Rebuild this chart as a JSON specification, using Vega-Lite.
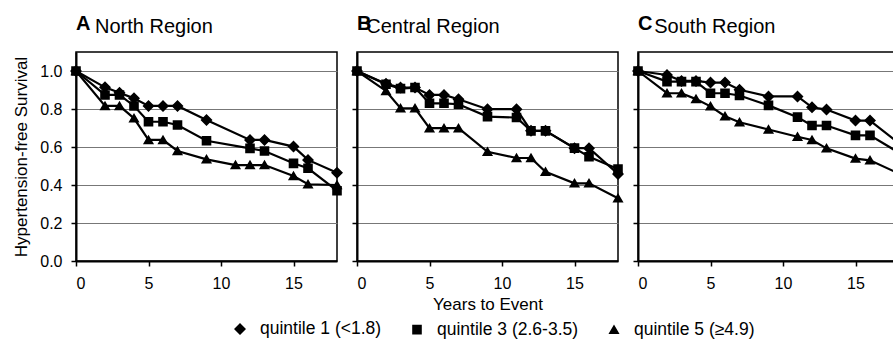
{
  "$schema": "https://vega.github.io/schema/vega-lite/v6.json",
  "padding": {"left": 12, "top": 13, "right": 0, "bottom": 0},
  "background": "white",
  "config": {
    "font": "Liberation Sans",
    "view": {"stroke": "black", "strokeWidth": 1.5},
    "axis": {
      "labelFont": "Liberation Sans", "labelFontSize": 16, "labelColor": "black",
      "titleFont": "Liberation Sans", "titleFontSize": 17, "titleFontWeight": "normal", "titleColor": "black",
      "domainColor": "black", "domainWidth": 2, "tickColor": "black", "tickWidth": 1.5, "tickSize": 5
    },
    "axisY": {"gridColor": "#777777", "gridWidth": 1, "gridOpacity": 1, "labelPadding": 9, "titlePadding": 9},
    "axisX": {"grid": false, "labelPadding": 9, "titlePadding": 5},
    "title": {"font": "Liberation Sans", "color": "black", "anchor": "start"}
  },
  "datasets": {
    "surv": [
      {"region": "North Region", "q": "quintile 1 (<1.8)", "t": 0, "s": 1.0},
      {"region": "North Region", "q": "quintile 1 (<1.8)", "t": 2, "s": 0.914},
      {"region": "North Region", "q": "quintile 1 (<1.8)", "t": 3, "s": 0.886},
      {"region": "North Region", "q": "quintile 1 (<1.8)", "t": 4, "s": 0.856},
      {"region": "North Region", "q": "quintile 1 (<1.8)", "t": 5, "s": 0.816},
      {"region": "North Region", "q": "quintile 1 (<1.8)", "t": 6, "s": 0.816},
      {"region": "North Region", "q": "quintile 1 (<1.8)", "t": 7, "s": 0.816},
      {"region": "North Region", "q": "quintile 1 (<1.8)", "t": 9, "s": 0.742},
      {"region": "North Region", "q": "quintile 1 (<1.8)", "t": 12, "s": 0.637},
      {"region": "North Region", "q": "quintile 1 (<1.8)", "t": 13, "s": 0.637},
      {"region": "North Region", "q": "quintile 1 (<1.8)", "t": 15, "s": 0.602},
      {"region": "North Region", "q": "quintile 1 (<1.8)", "t": 16, "s": 0.532},
      {"region": "North Region", "q": "quintile 1 (<1.8)", "t": 18, "s": 0.465},
      {"region": "North Region", "q": "quintile 3 (2.6-3.5)", "t": 0, "s": 1.0},
      {"region": "North Region", "q": "quintile 3 (2.6-3.5)", "t": 2, "s": 0.874},
      {"region": "North Region", "q": "quintile 3 (2.6-3.5)", "t": 3, "s": 0.874},
      {"region": "North Region", "q": "quintile 3 (2.6-3.5)", "t": 4, "s": 0.816},
      {"region": "North Region", "q": "quintile 3 (2.6-3.5)", "t": 5, "s": 0.733},
      {"region": "North Region", "q": "quintile 3 (2.6-3.5)", "t": 6, "s": 0.733},
      {"region": "North Region", "q": "quintile 3 (2.6-3.5)", "t": 7, "s": 0.716},
      {"region": "North Region", "q": "quintile 3 (2.6-3.5)", "t": 9, "s": 0.633},
      {"region": "North Region", "q": "quintile 3 (2.6-3.5)", "t": 12, "s": 0.593},
      {"region": "North Region", "q": "quintile 3 (2.6-3.5)", "t": 13, "s": 0.579},
      {"region": "North Region", "q": "quintile 3 (2.6-3.5)", "t": 15, "s": 0.514},
      {"region": "North Region", "q": "quintile 3 (2.6-3.5)", "t": 16, "s": 0.488},
      {"region": "North Region", "q": "quintile 3 (2.6-3.5)", "t": 18, "s": 0.37},
      {"region": "North Region", "q": "quintile 5 (≥4.9)", "t": 0, "s": 1.0},
      {"region": "North Region", "q": "quintile 5 (≥4.9)", "t": 2, "s": 0.816},
      {"region": "North Region", "q": "quintile 5 (≥4.9)", "t": 3, "s": 0.816},
      {"region": "North Region", "q": "quintile 5 (≥4.9)", "t": 4, "s": 0.751},
      {"region": "North Region", "q": "quintile 5 (≥4.9)", "t": 5, "s": 0.637},
      {"region": "North Region", "q": "quintile 5 (≥4.9)", "t": 6, "s": 0.637},
      {"region": "North Region", "q": "quintile 5 (≥4.9)", "t": 7, "s": 0.579},
      {"region": "North Region", "q": "quintile 5 (≥4.9)", "t": 9, "s": 0.535},
      {"region": "North Region", "q": "quintile 5 (≥4.9)", "t": 11, "s": 0.505},
      {"region": "North Region", "q": "quintile 5 (≥4.9)", "t": 12, "s": 0.505},
      {"region": "North Region", "q": "quintile 5 (≥4.9)", "t": 13, "s": 0.505},
      {"region": "North Region", "q": "quintile 5 (≥4.9)", "t": 15, "s": 0.447},
      {"region": "North Region", "q": "quintile 5 (≥4.9)", "t": 16, "s": 0.404},
      {"region": "North Region", "q": "quintile 5 (≥4.9)", "t": 18, "s": 0.40},
      {"region": "Central Region", "q": "quintile 1 (<1.8)", "t": 0, "s": 1.0},
      {"region": "Central Region", "q": "quintile 1 (<1.8)", "t": 2, "s": 0.933},
      {"region": "Central Region", "q": "quintile 1 (<1.8)", "t": 3, "s": 0.913},
      {"region": "Central Region", "q": "quintile 1 (<1.8)", "t": 4, "s": 0.913},
      {"region": "Central Region", "q": "quintile 1 (<1.8)", "t": 5, "s": 0.874},
      {"region": "Central Region", "q": "quintile 1 (<1.8)", "t": 6, "s": 0.874},
      {"region": "Central Region", "q": "quintile 1 (<1.8)", "t": 7, "s": 0.851},
      {"region": "Central Region", "q": "quintile 1 (<1.8)", "t": 9, "s": 0.799},
      {"region": "Central Region", "q": "quintile 1 (<1.8)", "t": 11, "s": 0.799},
      {"region": "Central Region", "q": "quintile 1 (<1.8)", "t": 12, "s": 0.685},
      {"region": "Central Region", "q": "quintile 1 (<1.8)", "t": 13, "s": 0.685},
      {"region": "Central Region", "q": "quintile 1 (<1.8)", "t": 15, "s": 0.594},
      {"region": "Central Region", "q": "quintile 1 (<1.8)", "t": 16, "s": 0.594},
      {"region": "Central Region", "q": "quintile 1 (<1.8)", "t": 18, "s": 0.458},
      {"region": "Central Region", "q": "quintile 3 (2.6-3.5)", "t": 0, "s": 1.0},
      {"region": "Central Region", "q": "quintile 3 (2.6-3.5)", "t": 2, "s": 0.930},
      {"region": "Central Region", "q": "quintile 3 (2.6-3.5)", "t": 3, "s": 0.907},
      {"region": "Central Region", "q": "quintile 3 (2.6-3.5)", "t": 4, "s": 0.913},
      {"region": "Central Region", "q": "quintile 3 (2.6-3.5)", "t": 5, "s": 0.830},
      {"region": "Central Region", "q": "quintile 3 (2.6-3.5)", "t": 6, "s": 0.830},
      {"region": "Central Region", "q": "quintile 3 (2.6-3.5)", "t": 7, "s": 0.825},
      {"region": "Central Region", "q": "quintile 3 (2.6-3.5)", "t": 9, "s": 0.760},
      {"region": "Central Region", "q": "quintile 3 (2.6-3.5)", "t": 11, "s": 0.755},
      {"region": "Central Region", "q": "quintile 3 (2.6-3.5)", "t": 12, "s": 0.685},
      {"region": "Central Region", "q": "quintile 3 (2.6-3.5)", "t": 13, "s": 0.685},
      {"region": "Central Region", "q": "quintile 3 (2.6-3.5)", "t": 15, "s": 0.594},
      {"region": "Central Region", "q": "quintile 3 (2.6-3.5)", "t": 16, "s": 0.549},
      {"region": "Central Region", "q": "quintile 3 (2.6-3.5)", "t": 18, "s": 0.484},
      {"region": "Central Region", "q": "quintile 5 (≥4.9)", "t": 0, "s": 1.0},
      {"region": "Central Region", "q": "quintile 5 (≥4.9)", "t": 2, "s": 0.895},
      {"region": "Central Region", "q": "quintile 5 (≥4.9)", "t": 3, "s": 0.804},
      {"region": "Central Region", "q": "quintile 5 (≥4.9)", "t": 4, "s": 0.804},
      {"region": "Central Region", "q": "quintile 5 (≥4.9)", "t": 5, "s": 0.699},
      {"region": "Central Region", "q": "quintile 5 (≥4.9)", "t": 6, "s": 0.699},
      {"region": "Central Region", "q": "quintile 5 (≥4.9)", "t": 7, "s": 0.699},
      {"region": "Central Region", "q": "quintile 5 (≥4.9)", "t": 9, "s": 0.575},
      {"region": "Central Region", "q": "quintile 5 (≥4.9)", "t": 11, "s": 0.542},
      {"region": "Central Region", "q": "quintile 5 (≥4.9)", "t": 12, "s": 0.542},
      {"region": "Central Region", "q": "quintile 5 (≥4.9)", "t": 13, "s": 0.47},
      {"region": "Central Region", "q": "quintile 5 (≥4.9)", "t": 15, "s": 0.409},
      {"region": "Central Region", "q": "quintile 5 (≥4.9)", "t": 16, "s": 0.409},
      {"region": "Central Region", "q": "quintile 5 (≥4.9)", "t": 18, "s": 0.33},
      {"region": "South Region", "q": "quintile 1 (<1.8)", "t": 0, "s": 1.0},
      {"region": "South Region", "q": "quintile 1 (<1.8)", "t": 2, "s": 0.979},
      {"region": "South Region", "q": "quintile 1 (<1.8)", "t": 3, "s": 0.948},
      {"region": "South Region", "q": "quintile 1 (<1.8)", "t": 4, "s": 0.948},
      {"region": "South Region", "q": "quintile 1 (<1.8)", "t": 5, "s": 0.939},
      {"region": "South Region", "q": "quintile 1 (<1.8)", "t": 6, "s": 0.939},
      {"region": "South Region", "q": "quintile 1 (<1.8)", "t": 7, "s": 0.901},
      {"region": "South Region", "q": "quintile 1 (<1.8)", "t": 9, "s": 0.866},
      {"region": "South Region", "q": "quintile 1 (<1.8)", "t": 11, "s": 0.866},
      {"region": "South Region", "q": "quintile 1 (<1.8)", "t": 12, "s": 0.809},
      {"region": "South Region", "q": "quintile 1 (<1.8)", "t": 13, "s": 0.797},
      {"region": "South Region", "q": "quintile 1 (<1.8)", "t": 15, "s": 0.739},
      {"region": "South Region", "q": "quintile 1 (<1.8)", "t": 16, "s": 0.739},
      {"region": "South Region", "q": "quintile 1 (<1.8)", "t": 18, "s": 0.62},
      {"region": "South Region", "q": "quintile 3 (2.6-3.5)", "t": 0, "s": 1.0},
      {"region": "South Region", "q": "quintile 3 (2.6-3.5)", "t": 2, "s": 0.944},
      {"region": "South Region", "q": "quintile 3 (2.6-3.5)", "t": 3, "s": 0.944},
      {"region": "South Region", "q": "quintile 3 (2.6-3.5)", "t": 4, "s": 0.944},
      {"region": "South Region", "q": "quintile 3 (2.6-3.5)", "t": 5, "s": 0.883},
      {"region": "South Region", "q": "quintile 3 (2.6-3.5)", "t": 6, "s": 0.883},
      {"region": "South Region", "q": "quintile 3 (2.6-3.5)", "t": 7, "s": 0.871},
      {"region": "South Region", "q": "quintile 3 (2.6-3.5)", "t": 9, "s": 0.819},
      {"region": "South Region", "q": "quintile 3 (2.6-3.5)", "t": 11, "s": 0.757},
      {"region": "South Region", "q": "quintile 3 (2.6-3.5)", "t": 12, "s": 0.713},
      {"region": "South Region", "q": "quintile 3 (2.6-3.5)", "t": 13, "s": 0.713},
      {"region": "South Region", "q": "quintile 3 (2.6-3.5)", "t": 15, "s": 0.661},
      {"region": "South Region", "q": "quintile 3 (2.6-3.5)", "t": 16, "s": 0.661},
      {"region": "South Region", "q": "quintile 3 (2.6-3.5)", "t": 18, "s": 0.57},
      {"region": "South Region", "q": "quintile 5 (≥4.9)", "t": 0, "s": 1.0},
      {"region": "South Region", "q": "quintile 5 (≥4.9)", "t": 2, "s": 0.883},
      {"region": "South Region", "q": "quintile 5 (≥4.9)", "t": 3, "s": 0.883},
      {"region": "South Region", "q": "quintile 5 (≥4.9)", "t": 4, "s": 0.852},
      {"region": "South Region", "q": "quintile 5 (≥4.9)", "t": 5, "s": 0.814},
      {"region": "South Region", "q": "quintile 5 (≥4.9)", "t": 6, "s": 0.762},
      {"region": "South Region", "q": "quintile 5 (≥4.9)", "t": 7, "s": 0.730},
      {"region": "South Region", "q": "quintile 5 (≥4.9)", "t": 9, "s": 0.692},
      {"region": "South Region", "q": "quintile 5 (≥4.9)", "t": 11, "s": 0.654},
      {"region": "South Region", "q": "quintile 5 (≥4.9)", "t": 12, "s": 0.637},
      {"region": "South Region", "q": "quintile 5 (≥4.9)", "t": 13, "s": 0.593},
      {"region": "South Region", "q": "quintile 5 (≥4.9)", "t": 15, "s": 0.539},
      {"region": "South Region", "q": "quintile 5 (≥4.9)", "t": 16, "s": 0.530},
      {"region": "South Region", "q": "quintile 5 (≥4.9)", "t": 18, "s": 0.46}
    ]
  },
  "spacing": -12,
  "hconcat": [
    {
      "title": {"text": "North Region", "fontSize": 20, "fontWeight": "normal", "dx": 83, "dy": 28},
      "hconcat": [
        {
          "title": {"text": "A", "fontSize": 20, "fontWeight": "bold", "frame": "group", "offset": 18},
          "width": 261, "height": 209,
          "data": {"name": "surv"},
          "transform": [{"filter": "datum.region === 'North Region'"}],
          "encoding": {
            "x": {"field": "t", "type": "quantitative", "scale": {"domain": [0, 18], "nice": false}, "axis": {"values": [0, 5, 10, 15], "title": null}},
            "y": {"field": "s", "type": "quantitative", "scale": {"domain": [0, 1.1], "nice": false}, "axis": {"values": [0, 0.2, 0.4, 0.6, 0.8, 1.0], "format": ".1f", "title": "Hypertension-free Survival"}}
          },
          "layer": [
            {"mark": {"type": "line", "color": "black", "strokeWidth": 2.2}, "encoding": {"detail": {"field": "q", "type": "nominal"}}},
            {"mark": {"type": "point", "filled": true, "color": "black", "opacity": 1, "size": 900},
             "encoding": {
               "strokeWidth": {"value": 0},
               "shape": {"field": "q", "type": "nominal", "scale": {"domain": ["quintile 1 (<1.8)", "quintile 3 (2.6-3.5)", "quintile 5 (≥4.9)"], "range": ["M-1,0L1,0M0,-0.4L0.4,0L0,0.4L-0.4,0Z", "M-1,0L1,0M-0.32,-0.32L0.32,-0.32L0.32,0.32L-0.32,0.32Z", "M-1,0L1,0M0,-0.35L0.37,0.28L-0.37,0.28Z"]},
               "legend": {"orient": "none", "legendX": 148, "legendY": 261, "direction": "horizontal", "columns": 3, "title": null,
                 "labelFont": "Liberation Sans", "labelFontSize": 17.5, "labelColor": "black", "labelOffset": 4, "columnPadding": 16,
                 "symbolSize": 900, "symbolStrokeColor": "black", "symbolFillColor": "black", "symbolStrokeWidth": 2, "symbolOpacity": 1}}}}
          ]
        }
      ]
    },
    {
      "title": {"text": "Central Region", "fontSize": 20, "fontWeight": "normal", "dx": 25, "dy": 28},
      "hconcat": [
        {
          "title": {"text": "B", "fontSize": 20, "fontWeight": "bold", "frame": "group", "offset": 18},
          "width": 261, "height": 209,
          "data": {"name": "surv"},
          "transform": [{"filter": "datum.region === 'Central Region'"}],
          "encoding": {
            "x": {"field": "t", "type": "quantitative", "scale": {"domain": [0, 18], "nice": false}, "axis": {"values": [0, 5, 10, 15], "title": "Years to Event"}},
            "y": {"field": "s", "type": "quantitative", "scale": {"domain": [0, 1.1], "nice": false}, "axis": {"values": [0, 0.2, 0.4, 0.6, 0.8, 1.0], "labels": false, "title": null}}
          },
          "layer": [
            {"mark": {"type": "line", "color": "black", "strokeWidth": 2.2}, "encoding": {"detail": {"field": "q", "type": "nominal"}}},
            {"mark": {"type": "point", "filled": true, "color": "black", "opacity": 1, "size": 900},
             "encoding": {
               "strokeWidth": {"value": 0},
               "shape": {"field": "q", "type": "nominal", "scale": {"domain": ["quintile 1 (<1.8)", "quintile 3 (2.6-3.5)", "quintile 5 (≥4.9)"], "range": ["M-1,0L1,0M0,-0.4L0.4,0L0,0.4L-0.4,0Z", "M-1,0L1,0M-0.32,-0.32L0.32,-0.32L0.32,0.32L-0.32,0.32Z", "M-1,0L1,0M0,-0.35L0.37,0.28L-0.37,0.28Z"]}}}}
          ]
        }
      ]
    },
    {
      "title": {"text": "South Region", "fontSize": 20, "fontWeight": "normal", "dx": 32, "dy": 28},
      "hconcat": [
        {
          "title": {"text": "C", "fontSize": 20, "fontWeight": "bold", "frame": "group", "offset": 18},
          "width": 261, "height": 209,
          "data": {"name": "surv"},
          "transform": [{"filter": "datum.region === 'South Region'"}],
          "encoding": {
            "x": {"field": "t", "type": "quantitative", "scale": {"domain": [0, 18], "nice": false}, "axis": {"values": [0, 5, 10, 15], "title": null}},
            "y": {"field": "s", "type": "quantitative", "scale": {"domain": [0, 1.1], "nice": false}, "axis": {"values": [0, 0.2, 0.4, 0.6, 0.8, 1.0], "labels": false, "title": null}}
          },
          "layer": [
            {"mark": {"type": "line", "color": "black", "strokeWidth": 2.2}, "encoding": {"detail": {"field": "q", "type": "nominal"}}},
            {"mark": {"type": "point", "filled": true, "color": "black", "opacity": 1, "size": 900},
             "encoding": {
               "strokeWidth": {"value": 0},
               "shape": {"field": "q", "type": "nominal", "scale": {"domain": ["quintile 1 (<1.8)", "quintile 3 (2.6-3.5)", "quintile 5 (≥4.9)"], "range": ["M-1,0L1,0M0,-0.4L0.4,0L0,0.4L-0.4,0Z", "M-1,0L1,0M-0.32,-0.32L0.32,-0.32L0.32,0.32L-0.32,0.32Z", "M-1,0L1,0M0,-0.35L0.37,0.28L-0.37,0.28Z"]}}}}
          ]
        }
      ]
    }
  ]
}
